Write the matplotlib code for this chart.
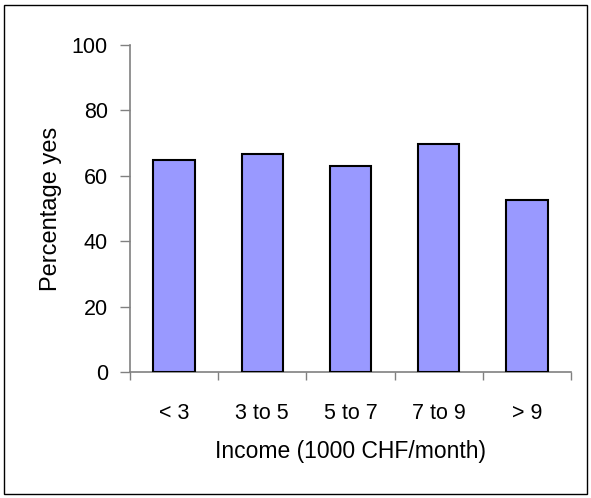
import matplotlib
matplotlib.use("Agg")
import matplotlib.pyplot as plt
from matplotlib.patches import Rectangle
import numpy as np

categories = ["< 3", "3 to 5", "5 to 7", "7 to 9", "> 9"]
values = [64.8, 66.8, 63.1, 69.7, 52.6]
yticks = [0, 20, 40, 60, 80, 100]

plt.rcParams['font.family'] = ['Liberation Sans', 'DejaVu Sans']

fig = plt.figure(figsize=(5.91, 4.98), dpi=100)
fig.patches.append(Rectangle((4/591, 4/498), 583/591, 489/498, transform=fig.transFigure,
                             fill=False, edgecolor='black', linewidth=1.0))
ax = fig.add_axes([130/591, 1-372/498, 441/591, 327/498])

x = np.arange(len(categories))
ax.bar(x, values, width=0.47, color='#9999ff', edgecolor='black', linewidth=1.5, zorder=3)

ax.set_xlim(-0.5, len(categories) - 0.5)
ax.set_ylim(0, 100)
ax.set_yticks(yticks)
ax.set_xticks(x)
ax.set_xticklabels(categories)
ax.set_xticks(np.arange(-0.5, len(categories)), minor=True)
ax.tick_params(axis='x', which='major', length=0, pad=22, labelsize=15.5)
ax.tick_params(axis='x', which='minor', length=6, color='#808080', width=1)
ax.tick_params(axis='y', length=7, color='#808080', width=1, labelsize=15.5, pad=9)

for s in ['top', 'right']:
    ax.spines[s].set_visible(False)
for s in ['left', 'bottom']:
    ax.spines[s].set_color('#808080')
    ax.spines[s].set_linewidth(1.2)

ax.set_ylabel("Percentage yes", fontsize=17, labelpad=7)
ax.set_xlabel("Income (1000 CHF/month)", fontsize=16.5, labelpad=12)

fig.savefig("out.png", dpi=100)
